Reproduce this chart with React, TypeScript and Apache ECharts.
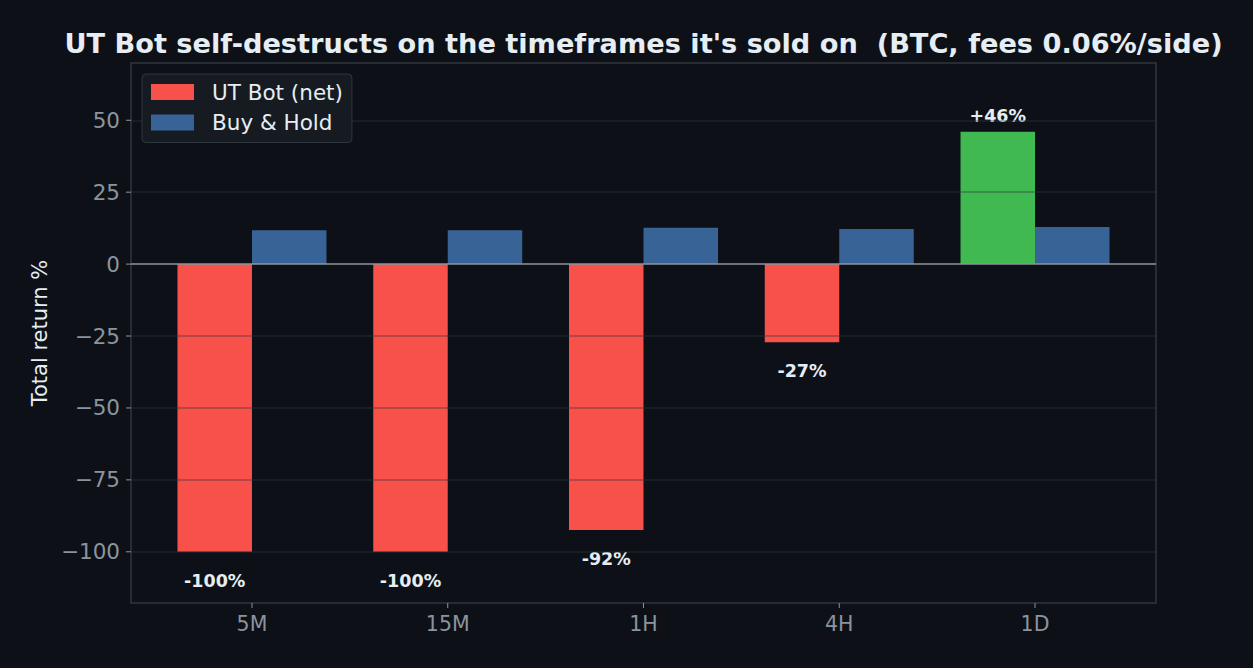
import React, { useEffect, useRef } from "react";
import * as echarts from "echarts";

const categories = ["5M", "15M", "1H", "4H", "1D"];
const utBotNet = [-100, -100, -92.4, -27.2, 46.0];
const buyHold = [11.8, 11.8, 12.6, 12.2, 12.9];
const yTickValues = [-100, -75, -50, -25, 0, 25, 50];
const gridLevels = [-100, -75, -50, -25, 25, 50];
const X_MIN = -0.618;
const X_MAX = 4.618;
const Y_MIN = -117.8;
const Y_MAX = 69.9;

const FONT = "DejaVu Sans";
const BG = "#0d1117";
const RED = "#f85149";
const GREEN = "#3fb950";
const BLUE = "#386396";
const FRAME = "#30363d";
const TICK = "#8b949e";

const fmtTick = (v: number) => (v < 0 ? "\u2212" + Math.abs(v) : String(v));
const fmtPct = (v: number) => (v > 0 ? "+" : "") + Math.round(v) + "%";

export default function App() {
  const ref = useRef<HTMLDivElement>(null);
  useEffect(() => {
    if (!ref.current) return;
    const chart = echarts.init(ref.current, undefined, { renderer: "svg" });
    const redData = utBotNet.map((v, i) => ({
      value: [i, v],
      itemStyle: { color: v > 0 ? GREEN : RED },
      label: {
        show: true,
        position: v < 0 ? "bottom" : "top",
        distance: v < 0 ? 20 : 7,
        formatter: () => fmtPct(v),
        color: "#e6edf3",
        fontFamily: FONT,
        fontWeight: "bold",
        fontSize: 17.5,
      },
    }));
    const blueData = buyHold.map((v, i) => [i, v]);
    chart.setOption({
      animation: false,
      backgroundColor: BG,
      title: {
        text: "UT Bot self-destructs on the timeframes it's sold on  (BTC, fees 0.06%/side)",
        left: 643.5,
        textAlign: "center",
        top: 30,
        padding: 0,
        textStyle: { color: "#e6edf3", fontFamily: FONT, fontWeight: "bold", fontSize: 27.2 },
      },
      legend: {
        orient: "vertical",
        left: 142,
        top: 74,
        z: 10,
        itemWidth: 43,
        itemHeight: 16,
        itemGap: 6.5,
        padding: [6, 9, 8, 9],
        backgroundColor: "#161b22",
        borderColor: FRAME,
        borderWidth: 1,
        borderRadius: 4,
        icon: "rect",
        data: ["UT Bot (net)", "Buy & Hold"],
        textStyle: {
          color: "#e6edf3",
          fontFamily: FONT,
          fontSize: 21.5,
          lineHeight: 24,
          padding: [0, 0, 0, 13],
        },
      },
      grid: {
        left: 131,
        right: 97,
        top: 63,
        bottom: 65,
        show: true,
        borderColor: FRAME,
        borderWidth: 1.5,
        backgroundColor: "transparent",
      },
      xAxis: {
        type: "value",
        min: X_MIN,
        max: X_MAX,
        axisLine: { show: false, onZero: false },
        splitLine: { show: false },
        axisTick: { show: false },
        axisLabel: {
          customValues: [0, 1, 2, 3, 4],
          formatter: (v: number) => categories[Math.round(v)],
          color: TICK,
          fontFamily: FONT,
          fontSize: 20.5,
          margin: 10,
        },
      },
      yAxis: {
        type: "value",
        min: Y_MIN,
        max: Y_MAX,
        name: "Total return %",
        nameLocation: "middle",
        nameGap: 81,
        nameTextStyle: { color: "#e6edf3", fontFamily: FONT, fontSize: 21 },
        axisLine: { show: false, onZero: false },
        splitLine: { show: false },
        axisTick: { show: false },
        axisLabel: {
          customValues: yTickValues,
          formatter: (v: number) => fmtTick(v),
          color: TICK,
          fontFamily: FONT,
          fontSize: 21.5,
          margin: 11,
        },
      },
      series: [
        {
          name: "UT Bot (net)",
          type: "bar",
          barWidth: 74.5,
          barGap: "0%",
          itemStyle: { color: RED },
          data: redData,
        },
        {
          name: "Buy & Hold",
          type: "bar",
          barWidth: 74.5,
          barGap: "0%",
          itemStyle: { color: BLUE },
          data: blueData,
        },
        {
          name: "overlay",
          type: "line",
          z: 5,
          data: [[0, 0]],
          symbol: "none",
          lineStyle: { opacity: 0 },
          silent: true,
          markLine: {
            silent: true,
            symbol: ["none", "none"],
            label: { show: false },
            data: [
              ...gridLevels.map((y) => ({
                yAxis: y,
                lineStyle: { color: "rgba(48,54,61,0.45)", width: 1.5, type: "solid" },
              })),
              { yAxis: 0, lineStyle: { color: TICK, width: 1.5, type: "solid" } },
            ],
          },
        },
      ],
    });

    // Tick marks placed through the chart's own scales
    const ticks: any[] = [];
    categories.forEach((_, i) => {
      const p = chart.convertToPixel({ gridIndex: 0 }, [i, Y_MIN]) as number[];
      if (p) {
        ticks.push({
          type: "line",
          silent: true,
          z: 20,
          shape: { x1: p[0], y1: p[1], x2: p[0], y2: p[1] + 5 },
          style: { stroke: TICK, lineWidth: 1 },
        });
      }
    });
    yTickValues.forEach((v) => {
      const p = chart.convertToPixel({ gridIndex: 0 }, [X_MIN, v]) as number[];
      if (p) {
        ticks.push({
          type: "line",
          silent: true,
          z: 20,
          shape: { x1: p[0] - 5, y1: p[1], x2: p[0], y2: p[1] },
          style: { stroke: TICK, lineWidth: 1 },
        });
      }
    });
    chart.setOption({ graphic: ticks });

    return () => chart.dispose();
  }, []);
  return <div ref={ref} style={{ width: 1253, height: 668, position: "absolute", left: 0, top: 0 }} />;
}
